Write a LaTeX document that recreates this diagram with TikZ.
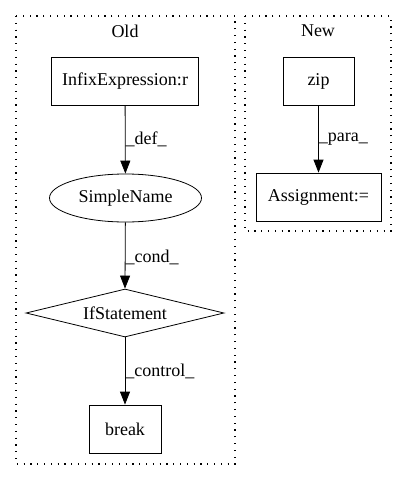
\documentclass[tikz,border=0pt]{standalone}
\usepackage{fontspec}
\setmainfont{Liberation Serif}
\usetikzlibrary{shapes.geometric,arrows.meta}
\begin{document}
\begin{tikzpicture}[x=1pt,y=-1pt,
  font=\fontsize{18}{20}\selectfont,
  box/.style={draw,line width=0.8pt,rectangle,inner sep=0pt},
  cluster/.style={draw,line width=1.2pt,dash pattern=on 1.2pt off 5.6pt},
  edge/.style={-{Triangle[length=13pt,width=10pt]},line width=0.8pt},
  elabel/.style={right,inner sep=0pt,xshift=0pt}]
\useasboundingbox (0,0) rectangle (408,480);
% clusters
\draw[cluster] (16,16) rectangle (235,464);
\draw[cluster] (245,16) rectangle (391,231);
\node (oldlbl) at (125,31) {Old};
\node (newlbl) at (318,31) {New};
% nodes
\node[box,minimum width=147pt,minimum height=48pt] (infix) at (125,81) {InfixExpression:r};
\node[draw,line width=0.8pt,ellipse,minimum width=152pt,minimum height=48pt,inner sep=0pt] (sn) at (125.5,198) {SimpleName};
\node[draw,line width=0.8pt,diamond,aspect=4.1,minimum width=198pt,minimum height=48pt,inner sep=0pt] (ifs) at (125,313) {};
\node at (ifs.center) {IfStatement};
\node[box,minimum width=72pt,minimum height=48pt] (brk) at (125,429) {break};
\node[box,minimum width=71pt,minimum height=48pt] (zip) at (318.5,81) {zip};
\node[box,minimum width=125pt,minimum height=48pt] (asg) at (318.5,197) {Assignment:=};
% edges
\draw[edge] (infix) -- node[elabel] {\_def\_} (sn);
\draw[edge] (sn) -- node[elabel,yshift=-2pt] {\_cond\_} (ifs.north);
\draw[edge] (ifs.south) -- node[elabel] {\_control\_} (brk);
\draw[edge] (zip) -- node[elabel] {\_para\_} (asg);
\end{tikzpicture}
\end{document}
